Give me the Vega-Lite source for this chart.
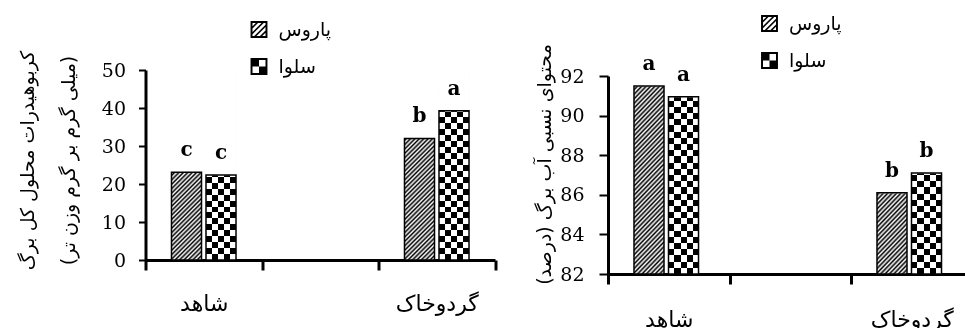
{
"$schema":"https://vega.github.io/schema/vega-lite/v6.json",
"background":"white",
"padding":{"left":17.5,"top":14,"right":0,"bottom":0},
"spacing":112.5,
"bounds":"flush",
"resolve":{"scale":{"shape":"independent"},"legend":{"shape":"independent"}},
"config":{"view":{"stroke":null},"axis":{"domainColor":"black","tickColor":"black","labelColor":"black","titleColor":"black","grid":false},"axisY":{"labelOverlap":false}},
"hconcat":[
{
"width":349.5,"height":184,
"data":{"values":[
{"treatment":"شاهد","cultivar":"پاروس","value":23.1,"letter":"c"},
{"treatment":"شاهد","cultivar":"سلوا","value":22.4,"letter":"c"},
{"treatment":"گردوخاک","cultivar":"پاروس","value":32.0,"letter":"b"},
{"treatment":"گردوخاک","cultivar":"سلوا","value":39.3,"letter":"a"}
]},
"encoding":{
"x":{"field":"treatment","type":"nominal","scale":{"domain":["شاهد"," ","گردوخاک"],"paddingInner":0,"paddingOuter":0},"axis":{"title":null,"tickBand":"extent","tickSize":10,"tickWidth":3,"domainWidth":3,"labelAngle":0,"labelFont":"DejaVu Sans","labelFontSize":22,"labelPadding":23}},
"xOffset":{"field":"cultivar","type":"nominal","scale":{"domain":["پاروس","سلوا"],"paddingInner":0.13,"paddingOuter":0.753}}
},
"layer":[
{"transform":[{"filter":"datum.cultivar === 'پاروس'"}],
"mark":{"type":"bar","fill":{"gradient":"linear","x1":0,"y1":0,"x2":0.17838,"y2":1.12973,"stops":[{"offset":0,"color":"#000"},{"offset":0.01,"color":"#fff"},{"offset":0.02,"color":"#000"},{"offset":0.03,"color":"#fff"},{"offset":0.04,"color":"#000"},{"offset":0.05,"color":"#fff"},{"offset":0.06,"color":"#000"},{"offset":0.07,"color":"#fff"},{"offset":0.08,"color":"#000"},{"offset":0.09,"color":"#fff"},{"offset":0.1,"color":"#000"},{"offset":0.11,"color":"#fff"},{"offset":0.12,"color":"#000"},{"offset":0.13,"color":"#fff"},{"offset":0.14,"color":"#000"},{"offset":0.15,"color":"#fff"},{"offset":0.16,"color":"#000"},{"offset":0.17,"color":"#fff"},{"offset":0.18,"color":"#000"},{"offset":0.19,"color":"#fff"},{"offset":0.2,"color":"#000"},{"offset":0.21,"color":"#fff"},{"offset":0.22,"color":"#000"},{"offset":0.23,"color":"#fff"},{"offset":0.24,"color":"#000"},{"offset":0.25,"color":"#fff"},{"offset":0.26,"color":"#000"},{"offset":0.27,"color":"#fff"},{"offset":0.28,"color":"#000"},{"offset":0.29,"color":"#fff"},{"offset":0.3,"color":"#000"},{"offset":0.31,"color":"#fff"},{"offset":0.32,"color":"#000"},{"offset":0.33,"color":"#fff"},{"offset":0.34,"color":"#000"},{"offset":0.35,"color":"#fff"},{"offset":0.36,"color":"#000"},{"offset":0.37,"color":"#fff"},{"offset":0.38,"color":"#000"},{"offset":0.39,"color":"#fff"},{"offset":0.4,"color":"#000"},{"offset":0.41,"color":"#fff"},{"offset":0.42,"color":"#000"},{"offset":0.43,"color":"#fff"},{"offset":0.44,"color":"#000"},{"offset":0.45,"color":"#fff"},{"offset":0.46,"color":"#000"},{"offset":0.47,"color":"#fff"},{"offset":0.48,"color":"#000"},{"offset":0.49,"color":"#fff"},{"offset":0.5,"color":"#000"},{"offset":0.51,"color":"#fff"},{"offset":0.52,"color":"#000"},{"offset":0.53,"color":"#fff"},{"offset":0.54,"color":"#000"},{"offset":0.55,"color":"#fff"},{"offset":0.56,"color":"#000"},{"offset":0.57,"color":"#fff"},{"offset":0.58,"color":"#000"},{"offset":0.59,"color":"#fff"},{"offset":0.6,"color":"#000"},{"offset":0.61,"color":"#fff"},{"offset":0.62,"color":"#000"},{"offset":0.63,"color":"#fff"},{"offset":0.64,"color":"#000"},{"offset":0.65,"color":"#fff"},{"offset":0.66,"color":"#000"},{"offset":0.67,"color":"#fff"},{"offset":0.68,"color":"#000"},{"offset":0.69,"color":"#fff"},{"offset":0.7,"color":"#000"},{"offset":0.71,"color":"#fff"},{"offset":0.72,"color":"#000"},{"offset":0.73,"color":"#fff"},{"offset":0.74,"color":"#000"},{"offset":0.75,"color":"#fff"},{"offset":0.76,"color":"#000"},{"offset":0.77,"color":"#fff"},{"offset":0.78,"color":"#000"},{"offset":0.79,"color":"#fff"},{"offset":0.8,"color":"#000"},{"offset":0.81,"color":"#fff"},{"offset":0.82,"color":"#000"},{"offset":0.83,"color":"#fff"},{"offset":0.84,"color":"#000"},{"offset":0.85,"color":"#fff"},{"offset":0.86,"color":"#000"},{"offset":0.87,"color":"#fff"},{"offset":0.88,"color":"#000"},{"offset":0.89,"color":"#fff"},{"offset":0.9,"color":"#000"},{"offset":0.91,"color":"#fff"},{"offset":0.92,"color":"#000"},{"offset":0.93,"color":"#fff"},{"offset":0.94,"color":"#000"},{"offset":0.95,"color":"#fff"},{"offset":0.96,"color":"#000"},{"offset":0.97,"color":"#fff"},{"offset":0.98,"color":"#000"},{"offset":0.99,"color":"#fff"},{"offset":1,"color":"#000"}]}},
"encoding":{"y":{"datum":50,"type":"quantitative","axis":{"values":[0,10,20,30,40,50],"labelOverlap":false,"labelBound":false,"tickSize":7,"tickWidth":2,"domainWidth":3,"labelFont":"DejaVu Serif","labelFontSize":19,"labelPadding":13,"title":["کربوهیدرات محلول کل برگ","(میلی گرم بر گرم وزن تر)"],"titleFont":"DejaVu Sans","titleFontSize":19,"titleFontWeight":"normal","titleLineHeight":41,"titleX":-118,"titleY":84,"titleAngle":-90,"titleAlign":"center","titleBaseline":"middle"}},"y2":{"datum":0}}},
{"transform":[{"filter":"datum.cultivar === 'سلوا'"}],
"mark":{"type":"bar","fill":{"gradient":"linear","x1":0,"y1":0,"x2":1,"y2":0,"stops":[{"offset":0,"color":"#000"},{"offset":0.2,"color":"#000"},{"offset":0.2,"color":"#fff"},{"offset":0.4,"color":"#fff"},{"offset":0.4,"color":"#000"},{"offset":0.6,"color":"#000"},{"offset":0.6,"color":"#fff"},{"offset":0.8,"color":"#fff"},{"offset":0.8,"color":"#000"},{"offset":1,"color":"#000"}]}},
"encoding":{"y":{"datum":50,"type":"quantitative","axis":{"values":[0,10,20,30,40,50],"labelOverlap":false,"labelBound":false,"tickSize":7,"tickWidth":2,"domainWidth":3,"labelFont":"DejaVu Serif","labelFontSize":19,"labelPadding":13,"title":["کربوهیدرات محلول کل برگ","(میلی گرم بر گرم وزن تر)"],"titleFont":"DejaVu Sans","titleFontSize":19,"titleFontWeight":"normal","titleLineHeight":41,"titleX":-118,"titleY":84,"titleAngle":-90,"titleAlign":"center","titleBaseline":"middle"}},"y2":{"datum":0}}},
{"transform":[{"filter":"datum.cultivar === 'سلوا'"}],
"mark":{"type":"bar","blend":"difference","fill":{"gradient":"linear","x1":0,"y1":0,"x2":0,"y2":1,"stops":[{"offset":0,"color":"#000"},{"offset":0.03125,"color":"#000"},{"offset":0.03125,"color":"#fff"},{"offset":0.0625,"color":"#fff"},{"offset":0.0625,"color":"#000"},{"offset":0.09375,"color":"#000"},{"offset":0.09375,"color":"#fff"},{"offset":0.125,"color":"#fff"},{"offset":0.125,"color":"#000"},{"offset":0.15625,"color":"#000"},{"offset":0.15625,"color":"#fff"},{"offset":0.1875,"color":"#fff"},{"offset":0.1875,"color":"#000"},{"offset":0.21875,"color":"#000"},{"offset":0.21875,"color":"#fff"},{"offset":0.25,"color":"#fff"},{"offset":0.25,"color":"#000"},{"offset":0.28125,"color":"#000"},{"offset":0.28125,"color":"#fff"},{"offset":0.3125,"color":"#fff"},{"offset":0.3125,"color":"#000"},{"offset":0.34375,"color":"#000"},{"offset":0.34375,"color":"#fff"},{"offset":0.375,"color":"#fff"},{"offset":0.375,"color":"#000"},{"offset":0.40625,"color":"#000"},{"offset":0.40625,"color":"#fff"},{"offset":0.4375,"color":"#fff"},{"offset":0.4375,"color":"#000"},{"offset":0.46875,"color":"#000"},{"offset":0.46875,"color":"#fff"},{"offset":0.5,"color":"#fff"},{"offset":0.5,"color":"#000"},{"offset":0.53125,"color":"#000"},{"offset":0.53125,"color":"#fff"},{"offset":0.5625,"color":"#fff"},{"offset":0.5625,"color":"#000"},{"offset":0.59375,"color":"#000"},{"offset":0.59375,"color":"#fff"},{"offset":0.625,"color":"#fff"},{"offset":0.625,"color":"#000"},{"offset":0.65625,"color":"#000"},{"offset":0.65625,"color":"#fff"},{"offset":0.6875,"color":"#fff"},{"offset":0.6875,"color":"#000"},{"offset":0.71875,"color":"#000"},{"offset":0.71875,"color":"#fff"},{"offset":0.75,"color":"#fff"},{"offset":0.75,"color":"#000"},{"offset":0.78125,"color":"#000"},{"offset":0.78125,"color":"#fff"},{"offset":0.8125,"color":"#fff"},{"offset":0.8125,"color":"#000"},{"offset":0.84375,"color":"#000"},{"offset":0.84375,"color":"#fff"},{"offset":0.875,"color":"#fff"},{"offset":0.875,"color":"#000"},{"offset":0.90625,"color":"#000"},{"offset":0.90625,"color":"#fff"},{"offset":0.9375,"color":"#fff"},{"offset":0.9375,"color":"#000"},{"offset":0.96875,"color":"#000"},{"offset":0.96875,"color":"#fff"},{"offset":1,"color":"#fff"}]}},
"encoding":{"y":{"datum":50,"type":"quantitative","axis":{"values":[0,10,20,30,40,50],"labelOverlap":false,"labelBound":false,"tickSize":7,"tickWidth":2,"domainWidth":3,"labelFont":"DejaVu Serif","labelFontSize":19,"labelPadding":13,"title":["کربوهیدرات محلول کل برگ","(میلی گرم بر گرم وزن تر)"],"titleFont":"DejaVu Sans","titleFontSize":19,"titleFontWeight":"normal","titleLineHeight":41,"titleX":-118,"titleY":84,"titleAngle":-90,"titleAlign":"center","titleBaseline":"middle"}},"y2":{"datum":0}}},
{"mark":{"type":"bar","fill":"white","stroke":"white","strokeWidth":1},
"encoding":{"y":{"field":"value","type":"quantitative","axis":{"values":[0,10,20,30,40,50],"labelOverlap":false,"labelBound":false,"tickSize":7,"tickWidth":2,"domainWidth":3,"labelFont":"DejaVu Serif","labelFontSize":19,"labelPadding":13,"title":["کربوهیدرات محلول کل برگ","(میلی گرم بر گرم وزن تر)"],"titleFont":"DejaVu Sans","titleFontSize":19,"titleFontWeight":"normal","titleLineHeight":41,"titleX":-118,"titleY":84,"titleAngle":-90,"titleAlign":"center","titleBaseline":"middle"}},"y2":{"datum":50}}},
{"mark":{"type":"bar","filled":false,"color":"black","stroke":"black","strokeWidth":1.5},
"encoding":{
"y":{"field":"value","type":"quantitative","scale":{"domain":[0,50],"range":[184,-6],"nice":false},"axis":{"values":[0,10,20,30,40,50],"labelOverlap":false,"labelBound":false,"tickSize":7,"tickWidth":2,"domainWidth":3,"labelFont":"DejaVu Serif","labelFontSize":19,"labelPadding":13,"title":["کربوهیدرات محلول کل برگ","(میلی گرم بر گرم وزن تر)"],"titleFont":"DejaVu Sans","titleFontSize":19,"titleFontWeight":"normal","titleLineHeight":41,"titleX":-118,"titleY":84,"titleAngle":-90,"titleAlign":"center","titleBaseline":"middle"}},
"y2":{"datum":0}
}},
{"mark":{"type":"point","filled":true,"fill":"black","stroke":"black","strokeWidth":1.5,"size":169,"clip":true},
"encoding":{"y":{"datum":-200,"type":"quantitative","axis":{"values":[0,10,20,30,40,50],"labelOverlap":false,"labelBound":false,"tickSize":7,"tickWidth":2,"domainWidth":3,"labelFont":"DejaVu Serif","labelFontSize":19,"labelPadding":13,"title":["کربوهیدرات محلول کل برگ","(میلی گرم بر گرم وزن تر)"],"titleFont":"DejaVu Sans","titleFontSize":19,"titleFontWeight":"normal","titleLineHeight":41,"titleX":-118,"titleY":84,"titleAngle":-90,"titleAlign":"center","titleBaseline":"middle"}},
"shape":{"field":"cultivar","type":"nominal","scale":{"domain":["پاروس","سلوا"],"range":["M-1.3,-1.3L1.3,-1.3L1.3,1.3L-1.3,1.3ZM-1,-1L-1,1L1,1L1,-1ZM-1,-0.49L-0.49,-1L-0.15,-1L-1,-0.15ZM-1,0.39L0.39,-1L0.73,-1L-1,0.73ZM-0.73,1L1,-0.73L1,-0.39L-0.39,1ZM0.15,1L1,0.15L1,0.49L0.49,1Z","M-1.3,-1.3L1.3,-1.3L1.3,1.3L-1.3,1.3ZM0,-1L0,0L1,0L1,-1ZM-1,0L-1,1L0,1L0,0Z"]},"legend":{"orient":"none","legendX":104,"legendY":-56,"title":null,"symbolSize":169,"symbolStrokeWidth":1.5,"symbolStrokeColor":"black","symbolFillColor":"black","symbolOpacity":1,"labelFont":"DejaVu Sans","labelFontSize":19,"labelColor":"black","labelOffset":10,"rowPadding":14}}}},
{"mark":{"type":"text","font":"DejaVu Serif","fontSize":20,"fontWeight":"bold","baseline":"alphabetic","dy":-16,"color":"black"},
"encoding":{"y":{"field":"value","type":"quantitative","axis":{"values":[0,10,20,30,40,50],"labelOverlap":false,"labelBound":false,"tickSize":7,"tickWidth":2,"domainWidth":3,"labelFont":"DejaVu Serif","labelFontSize":19,"labelPadding":13,"title":["کربوهیدرات محلول کل برگ","(میلی گرم بر گرم وزن تر)"],"titleFont":"DejaVu Sans","titleFontSize":19,"titleFontWeight":"normal","titleLineHeight":41,"titleX":-118,"titleY":84,"titleAngle":-90,"titleAlign":"center","titleBaseline":"middle"}},"text":{"field":"letter"}}}
]
},
{
"width":364.5,"height":198,
"data":{"values":[
{"treatment":"شاهد","cultivar":"پاروس","value":91.5,"letter":"a"},
{"treatment":"شاهد","cultivar":"سلوا","value":90.95,"letter":"a"},
{"treatment":"گردوخاک","cultivar":"پاروس","value":86.1,"letter":"b"},
{"treatment":"گردوخاک","cultivar":"سلوا","value":87.1,"letter":"b"}
]},
"encoding":{
"x":{"field":"treatment","type":"nominal","scale":{"domain":["شاهد"," ","گردوخاک"],"paddingInner":0,"paddingOuter":0},"axis":{"title":null,"tickBand":"extent","tickSize":10,"tickWidth":3,"domainWidth":3,"labelAngle":0,"labelFont":"DejaVu Sans","labelFontSize":22,"labelPadding":25}},
"xOffset":{"field":"cultivar","type":"nominal","scale":{"domain":["پاروس","سلوا"],"paddingInner":0.1258,"paddingOuter":0.7617}}
},
"layer":[
{"transform":[{"filter":"datum.cultivar === 'پاروس'"}],
"mark":{"type":"bar","fill":{"gradient":"linear","x1":0,"y1":0,"x2":0.17838,"y2":1.12973,"stops":[{"offset":0,"color":"#000"},{"offset":0.01,"color":"#fff"},{"offset":0.02,"color":"#000"},{"offset":0.03,"color":"#fff"},{"offset":0.04,"color":"#000"},{"offset":0.05,"color":"#fff"},{"offset":0.06,"color":"#000"},{"offset":0.07,"color":"#fff"},{"offset":0.08,"color":"#000"},{"offset":0.09,"color":"#fff"},{"offset":0.1,"color":"#000"},{"offset":0.11,"color":"#fff"},{"offset":0.12,"color":"#000"},{"offset":0.13,"color":"#fff"},{"offset":0.14,"color":"#000"},{"offset":0.15,"color":"#fff"},{"offset":0.16,"color":"#000"},{"offset":0.17,"color":"#fff"},{"offset":0.18,"color":"#000"},{"offset":0.19,"color":"#fff"},{"offset":0.2,"color":"#000"},{"offset":0.21,"color":"#fff"},{"offset":0.22,"color":"#000"},{"offset":0.23,"color":"#fff"},{"offset":0.24,"color":"#000"},{"offset":0.25,"color":"#fff"},{"offset":0.26,"color":"#000"},{"offset":0.27,"color":"#fff"},{"offset":0.28,"color":"#000"},{"offset":0.29,"color":"#fff"},{"offset":0.3,"color":"#000"},{"offset":0.31,"color":"#fff"},{"offset":0.32,"color":"#000"},{"offset":0.33,"color":"#fff"},{"offset":0.34,"color":"#000"},{"offset":0.35,"color":"#fff"},{"offset":0.36,"color":"#000"},{"offset":0.37,"color":"#fff"},{"offset":0.38,"color":"#000"},{"offset":0.39,"color":"#fff"},{"offset":0.4,"color":"#000"},{"offset":0.41,"color":"#fff"},{"offset":0.42,"color":"#000"},{"offset":0.43,"color":"#fff"},{"offset":0.44,"color":"#000"},{"offset":0.45,"color":"#fff"},{"offset":0.46,"color":"#000"},{"offset":0.47,"color":"#fff"},{"offset":0.48,"color":"#000"},{"offset":0.49,"color":"#fff"},{"offset":0.5,"color":"#000"},{"offset":0.51,"color":"#fff"},{"offset":0.52,"color":"#000"},{"offset":0.53,"color":"#fff"},{"offset":0.54,"color":"#000"},{"offset":0.55,"color":"#fff"},{"offset":0.56,"color":"#000"},{"offset":0.57,"color":"#fff"},{"offset":0.58,"color":"#000"},{"offset":0.59,"color":"#fff"},{"offset":0.6,"color":"#000"},{"offset":0.61,"color":"#fff"},{"offset":0.62,"color":"#000"},{"offset":0.63,"color":"#fff"},{"offset":0.64,"color":"#000"},{"offset":0.65,"color":"#fff"},{"offset":0.66,"color":"#000"},{"offset":0.67,"color":"#fff"},{"offset":0.68,"color":"#000"},{"offset":0.69,"color":"#fff"},{"offset":0.7,"color":"#000"},{"offset":0.71,"color":"#fff"},{"offset":0.72,"color":"#000"},{"offset":0.73,"color":"#fff"},{"offset":0.74,"color":"#000"},{"offset":0.75,"color":"#fff"},{"offset":0.76,"color":"#000"},{"offset":0.77,"color":"#fff"},{"offset":0.78,"color":"#000"},{"offset":0.79,"color":"#fff"},{"offset":0.8,"color":"#000"},{"offset":0.81,"color":"#fff"},{"offset":0.82,"color":"#000"},{"offset":0.83,"color":"#fff"},{"offset":0.84,"color":"#000"},{"offset":0.85,"color":"#fff"},{"offset":0.86,"color":"#000"},{"offset":0.87,"color":"#fff"},{"offset":0.88,"color":"#000"},{"offset":0.89,"color":"#fff"},{"offset":0.9,"color":"#000"},{"offset":0.91,"color":"#fff"},{"offset":0.92,"color":"#000"},{"offset":0.93,"color":"#fff"},{"offset":0.94,"color":"#000"},{"offset":0.95,"color":"#fff"},{"offset":0.96,"color":"#000"},{"offset":0.97,"color":"#fff"},{"offset":0.98,"color":"#000"},{"offset":0.99,"color":"#fff"},{"offset":1,"color":"#000"}]}},
"encoding":{"y":{"datum":92,"type":"quantitative","axis":{"values":[82,84,86,88,90,92],"labelOverlap":false,"labelBound":false,"tickSize":9,"tickWidth":2,"domainWidth":3,"labelFont":"DejaVu Serif","labelFontSize":19,"labelPadding":15,"title":"محتوای نسبی آب برگ (درصد)","titleFont":"DejaVu Sans","titleFontSize":19,"titleFontWeight":"normal","titleX":-64,"titleY":88,"titleAngle":-90,"titleAlign":"center","titleBaseline":"middle"}},"y2":{"datum":82}}},
{"transform":[{"filter":"datum.cultivar === 'سلوا'"}],
"mark":{"type":"bar","fill":{"gradient":"linear","x1":0,"y1":0,"x2":1,"y2":0,"stops":[{"offset":0,"color":"#000"},{"offset":0.2,"color":"#000"},{"offset":0.2,"color":"#fff"},{"offset":0.4,"color":"#fff"},{"offset":0.4,"color":"#000"},{"offset":0.6,"color":"#000"},{"offset":0.6,"color":"#fff"},{"offset":0.8,"color":"#fff"},{"offset":0.8,"color":"#000"},{"offset":1,"color":"#000"}]}},
"encoding":{"y":{"datum":92,"type":"quantitative","axis":{"values":[82,84,86,88,90,92],"labelOverlap":false,"labelBound":false,"tickSize":9,"tickWidth":2,"domainWidth":3,"labelFont":"DejaVu Serif","labelFontSize":19,"labelPadding":15,"title":"محتوای نسبی آب برگ (درصد)","titleFont":"DejaVu Sans","titleFontSize":19,"titleFontWeight":"normal","titleX":-64,"titleY":88,"titleAngle":-90,"titleAlign":"center","titleBaseline":"middle"}},"y2":{"datum":82}}},
{"transform":[{"filter":"datum.cultivar === 'سلوا'"}],
"mark":{"type":"bar","blend":"difference","fill":{"gradient":"linear","x1":0,"y1":0,"x2":0,"y2":1,"stops":[{"offset":0,"color":"#000"},{"offset":0.03125,"color":"#000"},{"offset":0.03125,"color":"#fff"},{"offset":0.0625,"color":"#fff"},{"offset":0.0625,"color":"#000"},{"offset":0.09375,"color":"#000"},{"offset":0.09375,"color":"#fff"},{"offset":0.125,"color":"#fff"},{"offset":0.125,"color":"#000"},{"offset":0.15625,"color":"#000"},{"offset":0.15625,"color":"#fff"},{"offset":0.1875,"color":"#fff"},{"offset":0.1875,"color":"#000"},{"offset":0.21875,"color":"#000"},{"offset":0.21875,"color":"#fff"},{"offset":0.25,"color":"#fff"},{"offset":0.25,"color":"#000"},{"offset":0.28125,"color":"#000"},{"offset":0.28125,"color":"#fff"},{"offset":0.3125,"color":"#fff"},{"offset":0.3125,"color":"#000"},{"offset":0.34375,"color":"#000"},{"offset":0.34375,"color":"#fff"},{"offset":0.375,"color":"#fff"},{"offset":0.375,"color":"#000"},{"offset":0.40625,"color":"#000"},{"offset":0.40625,"color":"#fff"},{"offset":0.4375,"color":"#fff"},{"offset":0.4375,"color":"#000"},{"offset":0.46875,"color":"#000"},{"offset":0.46875,"color":"#fff"},{"offset":0.5,"color":"#fff"},{"offset":0.5,"color":"#000"},{"offset":0.53125,"color":"#000"},{"offset":0.53125,"color":"#fff"},{"offset":0.5625,"color":"#fff"},{"offset":0.5625,"color":"#000"},{"offset":0.59375,"color":"#000"},{"offset":0.59375,"color":"#fff"},{"offset":0.625,"color":"#fff"},{"offset":0.625,"color":"#000"},{"offset":0.65625,"color":"#000"},{"offset":0.65625,"color":"#fff"},{"offset":0.6875,"color":"#fff"},{"offset":0.6875,"color":"#000"},{"offset":0.71875,"color":"#000"},{"offset":0.71875,"color":"#fff"},{"offset":0.75,"color":"#fff"},{"offset":0.75,"color":"#000"},{"offset":0.78125,"color":"#000"},{"offset":0.78125,"color":"#fff"},{"offset":0.8125,"color":"#fff"},{"offset":0.8125,"color":"#000"},{"offset":0.84375,"color":"#000"},{"offset":0.84375,"color":"#fff"},{"offset":0.875,"color":"#fff"},{"offset":0.875,"color":"#000"},{"offset":0.90625,"color":"#000"},{"offset":0.90625,"color":"#fff"},{"offset":0.9375,"color":"#fff"},{"offset":0.9375,"color":"#000"},{"offset":0.96875,"color":"#000"},{"offset":0.96875,"color":"#fff"},{"offset":1,"color":"#fff"}]}},
"encoding":{"y":{"datum":92,"type":"quantitative","axis":{"values":[82,84,86,88,90,92],"labelOverlap":false,"labelBound":false,"tickSize":9,"tickWidth":2,"domainWidth":3,"labelFont":"DejaVu Serif","labelFontSize":19,"labelPadding":15,"title":"محتوای نسبی آب برگ (درصد)","titleFont":"DejaVu Sans","titleFontSize":19,"titleFontWeight":"normal","titleX":-64,"titleY":88,"titleAngle":-90,"titleAlign":"center","titleBaseline":"middle"}},"y2":{"datum":82}}},
{"mark":{"type":"bar","fill":"white","stroke":"white","strokeWidth":1},
"encoding":{"y":{"field":"value","type":"quantitative","axis":{"values":[82,84,86,88,90,92],"labelOverlap":false,"labelBound":false,"tickSize":9,"tickWidth":2,"domainWidth":3,"labelFont":"DejaVu Serif","labelFontSize":19,"labelPadding":15,"title":"محتوای نسبی آب برگ (درصد)","titleFont":"DejaVu Sans","titleFontSize":19,"titleFontWeight":"normal","titleX":-64,"titleY":88,"titleAngle":-90,"titleAlign":"center","titleBaseline":"middle"}},"y2":{"datum":92}}},
{"mark":{"type":"bar","filled":false,"color":"black","stroke":"black","strokeWidth":1.5},
"encoding":{
"y":{"field":"value","type":"quantitative","scale":{"domain":[82,92],"nice":false,"zero":false},"axis":{"values":[82,84,86,88,90,92],"labelOverlap":false,"labelBound":false,"tickSize":9,"tickWidth":2,"domainWidth":3,"labelFont":"DejaVu Serif","labelFontSize":19,"labelPadding":15,"title":"محتوای نسبی آب برگ (درصد)","titleFont":"DejaVu Sans","titleFontSize":19,"titleFontWeight":"normal","titleX":-64,"titleY":88,"titleAngle":-90,"titleAlign":"center","titleBaseline":"middle"}},
"y2":{"datum":82}
}},
{"mark":{"type":"point","filled":true,"fill":"black","stroke":"black","strokeWidth":1.5,"size":169,"clip":true},
"encoding":{"y":{"datum":0,"type":"quantitative","axis":{"values":[82,84,86,88,90,92],"labelOverlap":false,"labelBound":false,"tickSize":9,"tickWidth":2,"domainWidth":3,"labelFont":"DejaVu Serif","labelFontSize":19,"labelPadding":15,"title":"محتوای نسبی آب برگ (درصد)","titleFont":"DejaVu Sans","titleFontSize":19,"titleFontWeight":"normal","titleX":-64,"titleY":88,"titleAngle":-90,"titleAlign":"center","titleBaseline":"middle"}},
"shape":{"field":"cultivar","type":"nominal","scale":{"domain":["پاروس","سلوا"],"range":["M-1.3,-1.3L1.3,-1.3L1.3,1.3L-1.3,1.3ZM-1,-1L-1,1L1,1L1,-1ZM-1,-0.49L-0.49,-1L-0.15,-1L-1,-0.15ZM-1,0.39L0.39,-1L0.73,-1L-1,0.73ZM-0.73,1L1,-0.73L1,-0.39L-0.39,1ZM0.15,1L1,0.15L1,0.49L0.49,1Z","M-1.3,-1.3L1.3,-1.3L1.3,1.3L-1.3,1.3ZM0,-1L0,0L1,0L1,-1ZM-1,0L-1,1L0,1L0,0Z"]},"legend":{"orient":"none","legendX":152,"legendY":-62,"title":null,"symbolSize":169,"symbolStrokeWidth":1.5,"symbolStrokeColor":"black","symbolFillColor":"black","symbolOpacity":1,"labelFont":"DejaVu Sans","labelFontSize":19,"labelColor":"black","labelOffset":10,"rowPadding":14}}}},
{"mark":{"type":"text","font":"DejaVu Serif","fontSize":20,"fontWeight":"bold","baseline":"alphabetic","dy":-16,"color":"black"},
"encoding":{"y":{"field":"value","type":"quantitative","axis":{"values":[82,84,86,88,90,92],"labelOverlap":false,"labelBound":false,"tickSize":9,"tickWidth":2,"domainWidth":3,"labelFont":"DejaVu Serif","labelFontSize":19,"labelPadding":15,"title":"محتوای نسبی آب برگ (درصد)","titleFont":"DejaVu Sans","titleFontSize":19,"titleFontWeight":"normal","titleX":-64,"titleY":88,"titleAngle":-90,"titleAlign":"center","titleBaseline":"middle"}},"text":{"field":"letter"}}}
]
}
]
}
